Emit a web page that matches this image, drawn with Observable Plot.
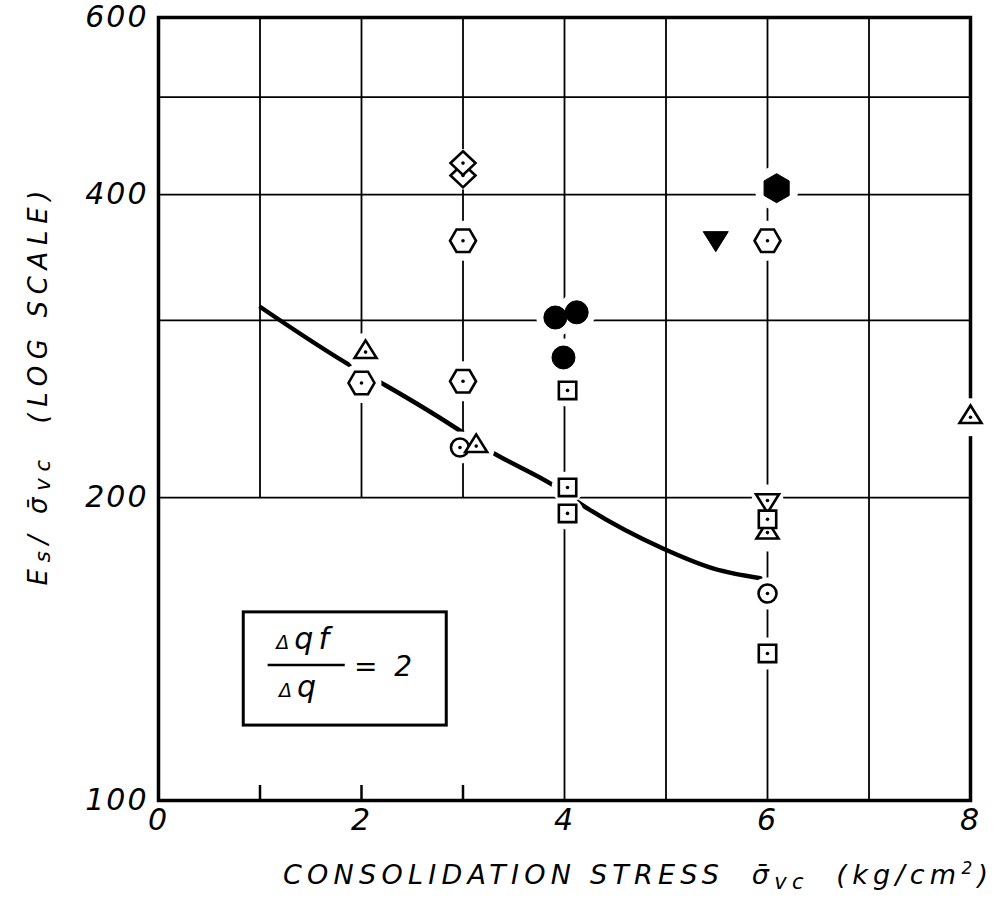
<!DOCTYPE html>
<html>
<head>
<meta charset="utf-8">
<script src="https://cdn.jsdelivr.net/npm/d3@7"></script>
<script src="https://cdn.jsdelivr.net/npm/@observablehq/plot@0.6"></script>
<style>
  html, body { margin: 0; padding: 0; background: #fff; }
  #chart { width: 995px; height: 898px; }
  #chart svg text { font-family: 'DejaVu Sans', sans-serif; font-style: italic; }
  #chart svg g[aria-label^="x-axis"] text, #chart svg g[aria-label^="y-axis"] text { font-size: 30px !important; letter-spacing: 2px; }
</style>
</head>
<body>
<div id="chart"></div>
<script>
// ---------------- DATA ----------------
const xTicks = [0, 2, 4, 6, 8];
const yTicks = [100, 200, 400, 600];
const gridXUpper = [1, 2, 3];        // vertical grid lines stopping at 200
const gridXFull = [4, 5, 6, 7];      // vertical grid lines running full height
const gridY = [200, 300, 400, 500];

// fitted curve
const curveX = [1.01, 1.92, 2.24, 3.0, 3.22, 3.88, 4.23, 4.97, 5.47, 5.93];
const curveY = [309, 269.5, 258.5, 232, 224, 206, 195, 178, 170, 166.3];

// symbols: x and y values
const openHexX = [2, 3, 3, 6];
const openHexY = [260, 360, 261, 360];
const diamondX = [3, 3];
const diamondY = [418, 430];
const circleDotX = [2.97, 6];
const circleDotY = [224.3, 160.6];
const triUpX = [2.04, 3.13, 6, 8];
const triUpY = [279, 225, 184.6, 240.4];
const triDownOpenX = [6];
const triDownOpenY = [198.7];
const squareX = [4.03, 4.03, 4.03, 6, 6];
const squareY = [255.6, 204.7, 192.9, 190.3, 140];
const filledCircleX = [3.91, 3.99, 4.12];
const filledCircleY = [302, 275.6, 305.6];
const filledHexX = [6.09];
const filledHexY = [406];
const filledTriDownX = [5.49];
const filledTriDownY = [362];

// annotation box (data coordinates)
const noteBox = [{x1: 0.84, x2: 2.84, y1: 118.7, y2: 153.8}];

// ---------------- HELPERS ----------------
const pts = (xs, ys) => xs.map((x, i) => ({x, y: ys[i]}));
const curve = pts(curveX, curveY);
const openHex = pts(openHexX, openHexY);
const diamonds = pts(diamondX, diamondY);
const circleDots = pts(circleDotX, circleDotY);
const triUp = pts(triUpX, triUpY);
const triDownOpen = pts(triDownOpenX, triDownOpenY);
const squares = pts(squareX, squareY);
const filledCircles = pts(filledCircleX, filledCircleY);
const filledHex = pts(filledHexX, filledHexY);
const filledTriDown = pts(filledTriDownX, filledTriDownY);

const R = (size) => Math.sqrt(size / Math.PI);
const poly = (ctx, v) => { v.forEach(([a, b], k) => k ? ctx.lineTo(a, b) : ctx.moveTo(a, b)); ctx.closePath(); };
const hexFlat = {draw(ctx, size) { const r = R(size); poly(ctx, d3.range(6).map(k => [r * Math.cos(k * Math.PI / 3), r * Math.sin(k * Math.PI / 3)])); }};
const hexPointy = {draw(ctx, size) { const r = R(size); poly(ctx, d3.range(6).map(k => { const a = -Math.PI / 2 + k * Math.PI / 3; return [r * Math.cos(a), r * Math.sin(a)]; })); }};
const squareSym = {draw(ctx, size) { const r = R(size); poly(ctx, [[-r, -r], [r, -r], [r, r], [-r, r]]); }};
const diamondSym = {draw(ctx, size) { const r = R(size); poly(ctx, [[0, -r * 0.95], [r, 0], [0, r * 0.95], [-r, 0]]); }};
const triUpSym = {draw(ctx, size) { const r = R(size), h = r * 1.6; poly(ctx, [[0, -2 * h / 3], [r, h / 3], [-r, h / 3]]); }};
const triDownSym = {draw(ctx, size) { const r = R(size), h = r * 1.6; poly(ctx, [[0, 2 * h / 3], [r, -h / 3], [-r, -h / 3]]); }};
const circleSym = {draw(ctx, size) { const r = R(size); ctx.moveTo(r, 0); ctx.arc(0, 0, r, 0, 2 * Math.PI); ctx.closePath(); }};

const SW = 2.6;
const open = (data, symbol, r) => Plot.dot(data, {x: "x", y: "y", symbol, r, fill: "white", stroke: "black", strokeWidth: SW});
const solid = (data, symbol, r) => Plot.dot(data, {x: "x", y: "y", symbol, r, fill: "black", stroke: "black", strokeWidth: 1});
const halo = (data, r) => Plot.dot(data, {x: "x", y: "y", r, fill: "white", stroke: "none"});
const centre = (data) => Plot.dot(data, {x: "x", y: "y", r: 1.8, fill: "black", stroke: "none"});

const chart = Plot.plot({
  width: 995,
  height: 898,
  marginTop: 17,
  marginBottom: 98,
  marginLeft: 158,
  marginRight: 25,
  style: {
    fontFamily: "'DejaVu Sans', sans-serif",
    fontStyle: "italic",
    fontSize: "30px",
    background: "white",
    color: "black"
  },
  x: {domain: [0, 8], ticks: xTicks, tickSize: 0, tickPadding: 8, label: null, tickFormat: d => `${d}`},
  y: {type: "log", domain: [100, 600], ticks: yTicks, tickSize: 0, tickPadding: 10, label: null, tickFormat: d => `${d}`},
  marks: [
    Plot.ruleX(gridXUpper, {y1: 200, y2: 600, stroke: "black", strokeWidth: 1.8}),
    Plot.ruleX(gridXFull, {stroke: "black", strokeWidth: 1.8}),
    Plot.ruleX(gridXUpper, {y1: 100, y2: 103.5, stroke: "black", strokeWidth: 2.5}),
    Plot.ruleY(gridY, {stroke: "black", strokeWidth: 1.8}),
    Plot.frame({stroke: "black", strokeWidth: 3.5}),
    Plot.line(curve, {x: "x", y: "y", curve: "monotone-x", stroke: "black", strokeWidth: 4.5, strokeLinecap: "round"}),
    // white halos that break the grid and curve around each symbol
    halo(openHex, 20), halo(diamonds, 14), halo(circleDots, 16), halo(triUp, 19),
    halo(triDownOpen, 16), halo(squares, 16), halo(filledCircles, 19),
    halo(filledHex, 22), halo(filledTriDown, 16),
    // symbols
    open(openHex, hexFlat, 13),
    open(diamonds, diamondSym, 12.5),
    open(circleDots, circleSym, 9),
    open(triUp, triUpSym, 11),
    open(triDownOpen, triDownSym, 11.5),
    open(squares, squareSym, 8.7),
    solid(filledCircles, circleSym, 11.5),
    solid(filledHex, hexPointy, 14.5),
    solid(filledTriDown, triDownSym, 12.5),
    centre(openHex), centre(diamonds), centre(circleDots), centre(triUp),
    centre(triDownOpen), centre(squares),
    // annotation box
    Plot.rect(noteBox, {x1: "x1", x2: "x2", y1: "y1", y2: "y2", fill: "white", stroke: "black", strokeWidth: 3})
  ]
});
document.getElementById("chart").append(chart);

// make sure tick labels use the large lettering size
d3.select(chart).selectAll('g[aria-label$="tick label"], g[aria-label$="tick label"] text, g[aria-label$="axis"], g[aria-label$="axis"] text')
  .attr("font-size", 30).style("font-size", "30px");

// ---------------- TEXT LABELS ----------------
const svg = d3.select(chart);
let sxs = chart.scale("x"), sys = chart.scale("y");
const sx = sxs.apply ? (v) => sxs.apply(v) : d3.scaleLinear(sxs.domain, sxs.range);
const sy = sys.apply ? (v) => sys.apply(v) : d3.scaleLog(sys.domain, sys.range);

// y-axis title
const yt = svg.append("text")
  .attr("transform", "translate(47,388) rotate(-90)")
  .attr("text-anchor", "middle")
  .attr("font-size", 26)
  .attr("textLength", 395)
  .attr("lengthAdjust", "spacing");
yt.append("tspan").text("E");
yt.append("tspan").attr("font-size", 22).attr("dy", 3).text("s");
yt.append("tspan").attr("dy", -3).text("/ σ̄");
yt.append("tspan").attr("font-size", 21).attr("dy", 3).text("vc");
yt.append("tspan").attr("dy", -3).text("\u00a0\u00a0(LOG SCALE)");

// x-axis title
const xt = svg.append("text")
  .attr("x", 283)
  .attr("y", 884)
  .attr("text-anchor", "start")
  .attr("font-size", 27)
  .attr("textLength", 705)
  .attr("lengthAdjust", "spacing");
xt.append("tspan").text("CONSOLIDATION STRESS\u00a0\u00a0σ̄");
xt.append("tspan").attr("font-size", 21).attr("dy", 5).text("vc");
xt.append("tspan").attr("dy", -5).text("\u00a0\u00a0(kg/cm");
xt.append("tspan").attr("font-size", 17).attr("dy", -10).text("2");
xt.append("tspan").attr("dy", 10).text(")");

// fraction in the annotation box
const num = svg.append("text")
  .attr("x", sx(1.45)).attr("y", sy(141.3))
  .attr("text-anchor", "middle").attr("font-size", 30).attr("letter-spacing", 5);
num.append("tspan").attr("font-size", 19).text("Δ");
num.append("tspan").text("qf");
svg.append("line")
  .attr("x1", sx(1.08)).attr("x2", sx(1.84))
  .attr("y1", sy(136.2)).attr("y2", sy(136.2))
  .attr("stroke", "black").attr("stroke-width", 2.5);
const den = svg.append("text")
  .attr("x", sx(1.40)).attr("y", sy(126.6))
  .attr("text-anchor", "middle").attr("font-size", 30).attr("letter-spacing", 5);
den.append("tspan").attr("font-size", 19).text("Δ");
den.append("tspan").text("q");
svg.append("text")
  .attr("x", sx(1.93)).attr("y", sy(132.8))
  .attr("text-anchor", "start")
  .attr("font-size", 28).attr("letter-spacing", 4)
  .text("= 2");
</script>
</body>
</html>
